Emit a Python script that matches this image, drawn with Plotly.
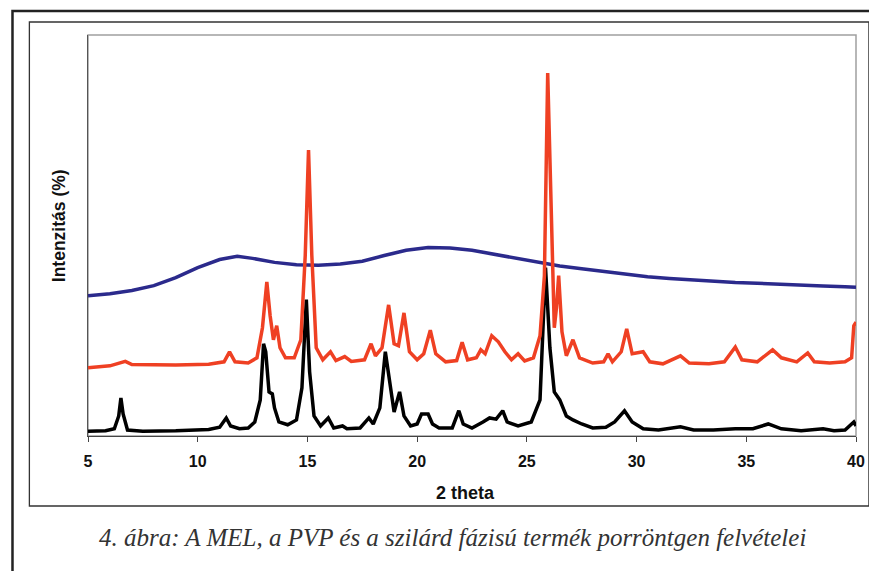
import plotly.graph_objects as go

# 2 theta vertices and intensities (arbitrary %, 0-100 over the plot height)
mel_x = [5.0, 5.8, 6.2, 6.4, 6.5, 6.6, 6.8, 7.5, 9.0, 10.5, 11.0, 11.3, 11.5, 11.9, 12.3,
         12.6, 12.85, 13.0, 13.1, 13.25, 13.4, 13.5, 13.7, 14.1, 14.5, 14.75, 14.95, 15.1,
         15.3, 15.6, 15.95, 16.2, 16.6, 16.8, 17.4, 17.8, 18.0, 18.3, 18.55, 18.75, 18.95,
         19.2, 19.4, 19.7, 20.0, 20.2, 20.5, 20.7, 21.0, 21.6, 21.9, 22.1, 22.5, 23.0, 23.3,
         23.6, 23.9, 24.1, 24.6, 25.2, 25.6, 25.85, 26.05, 26.25, 26.5, 26.8, 27.1, 27.5,
         28.0, 28.6, 29.0, 29.45, 29.8, 30.3, 31.0, 32.0, 32.6, 33.5, 34.5, 35.3, 36.0, 36.6,
         37.5, 38.5, 39.0, 39.5, 39.9, 40.0]
mel_y = [1.2, 1.3, 1.8, 5.0, 9.5, 5.5, 1.5, 1.2, 1.3, 1.6, 2.2, 4.5, 2.5, 1.8, 2.0,
         3.5, 9.0, 23.0, 21.0, 11.0, 10.5, 7.0, 3.5, 2.8, 4.0, 12.0, 34.0, 16.0,
         5.0, 2.5, 4.5, 2.0, 2.5, 1.8, 2.0, 4.5, 3.0, 7.0, 21.0, 13.0, 6.0,
         11.0, 5.0, 2.5, 3.0, 5.5, 5.5, 3.0, 2.0, 2.0, 6.3, 3.0, 2.0, 3.5, 4.5,
         4.2, 6.3, 3.5, 2.5, 3.5, 9.0, 42.0, 22.0, 11.0, 9.0, 5.0, 4.0, 3.0,
         2.0, 2.2, 3.5, 6.3, 3.5, 1.8, 1.5, 2.3, 1.5, 1.5, 1.8, 1.8, 3.0, 1.8,
         1.3, 1.8, 1.3, 1.5, 3.5, 2.5]

prod_x = [5.0, 6.0, 6.7, 7.0, 9.0, 10.5, 11.2, 11.45, 11.7, 12.3, 12.7, 12.95, 13.15, 13.3,
          13.45, 13.6, 13.75, 14.0, 14.4, 14.7, 14.9, 15.05, 15.2, 15.4, 15.7, 16.05, 16.3,
          16.7, 17.0, 17.6, 17.9, 18.1, 18.4, 18.7, 18.95, 19.15, 19.4, 19.65, 20.0, 20.3,
          20.6, 20.85, 21.3, 21.8, 22.05, 22.3, 22.7, 22.9, 23.1, 23.4, 23.7, 24.0, 24.3,
          24.6, 24.9, 25.3, 25.6, 25.8, 25.95, 26.1, 26.25, 26.35, 26.45, 26.6, 26.8, 27.1,
          27.4, 28.0, 28.5, 28.7, 28.9, 29.3, 29.55, 29.8, 30.3, 30.6, 31.2, 32.0, 32.4,
          33.3, 34.0, 34.5, 34.8, 35.5, 36.2, 36.6, 37.3, 37.8, 38.1, 38.8, 39.5, 39.8,
          39.9, 40.0]
prod_y = [17.0, 17.5, 18.6, 17.8, 17.7, 17.9, 18.5, 21.0, 18.5, 18.2, 19.5, 27.0, 38.4, 30.0,
          24.0, 27.5, 22.0, 19.5, 19.5, 24.0, 45.0, 71.3, 45.0, 22.0, 19.0, 21.0, 18.8,
          19.8, 18.6, 19.0, 23.0, 20.0, 22.0, 32.7, 23.0, 22.5, 30.7, 21.0, 19.0, 20.5,
          26.4, 20.5, 18.5, 18.8, 23.4, 19.0, 19.5, 21.5, 20.5, 25.0, 23.5, 21.0, 19.0,
          20.5, 18.7, 19.5, 25.0, 40.0, 90.5, 60.0, 27.0, 32.0, 40.0, 26.0, 20.0, 24.0,
          19.5, 18.2, 18.5, 20.5, 18.5, 21.0, 26.7, 20.5, 21.0, 18.5, 18.0, 20.0, 18.2,
          18.0, 18.5, 22.2, 19.0, 18.5, 21.5, 19.5, 18.5, 20.7, 18.5, 18.2, 18.5, 19.5,
          27.5, 28.4]

pvp_x = [5.0, 6.0, 7.0, 8.0, 9.0, 10.0, 11.0, 11.8, 12.5, 13.5, 14.5, 15.5, 16.5, 17.5,
         18.5, 19.5, 20.5, 21.5, 22.5, 23.5, 24.5, 25.5, 26.5, 27.5, 28.5, 29.5, 30.5,
         31.5, 32.5, 33.5, 34.5, 35.5, 36.5, 37.5, 38.5, 39.5, 40.0]
pvp_y = [35.0, 35.5, 36.3, 37.5, 39.5, 42.0, 44.0, 44.8, 44.3, 43.3, 42.7, 42.6, 42.9, 43.6,
         45.0, 46.3, 47.0, 46.9, 46.3, 45.3, 44.2, 43.3, 42.4, 41.7, 41.0, 40.3, 39.7,
         39.3, 38.9, 38.6, 38.3, 38.1, 37.8, 37.6, 37.4, 37.2, 37.1]

x_ticks = [5, 10, 15, 20, 25, 30, 35, 40]

# the page body adds an 8px margin, so the figure is drawn 8px smaller
OFF = 8
W, H = 877 - OFF, 571 - OFF
PL, PR, PT, PB = 88 - OFF, 861 - OFF, 35 - OFF, 436 - OFF


def px(x):
    return (x - OFF - PL) / (PR - PL)


def py(y):
    return (PB - (y - OFF)) / (PB - PT)


fig = go.Figure()
fig.add_trace(go.Scatter(x=pvp_x, y=pvp_y, mode="lines",
                         line=dict(color="#2B2A8C", width=3.5), name="PVP"))
fig.add_trace(go.Scatter(x=mel_x, y=mel_y, mode="lines",
                         line=dict(color="#000000", width=3.5), name="MEL"))
fig.add_trace(go.Scatter(x=prod_x, y=prod_y, mode="lines",
                         line=dict(color="#EF4023", width=3.5), name="termék"))

# grey plot-area border (top / right)
fig.add_shape(type="rect", xref="paper", yref="paper", x0=0, x1=1, y0=0, y1=1,
              line=dict(color="#A0A0A0", width=1.5), layer="below")
# inner chart box
fig.add_shape(type="rect", xref="paper", yref="paper",
              x0=px(29), x1=px(874), y0=py(506), y1=py(22),
              line=dict(color="#333333", width=1.3))
# outer page frame
fig.add_shape(type="rect", xref="paper", yref="paper",
              x0=px(12), x1=px(900), y0=py(600), y1=py(11),
              line=dict(color="#222222", width=2.5))

fig.add_annotation(xref="paper", yref="paper", x=px(468), y=py(493),
                   text="<b>2 theta</b>", showarrow=False,
                   xanchor="center", yanchor="middle", font=dict(size=18))
fig.add_annotation(xref="paper", yref="paper", x=px(59), y=py(226),
                   text="<b>Intenzitás (%)</b>", showarrow=False, textangle=-90,
                   xanchor="center", yanchor="middle", font=dict(size=17.5))
fig.add_annotation(xref="paper", yref="paper", x=px(455), y=py(537),
                   text="<i>4. ábra: A MEL, a PVP és a szilárd fázisú termék porröntgen felvételei</i>",
                   showarrow=False, xanchor="center", yanchor="middle",
                   font=dict(family="Liberation Serif", size=25, color="#333333"))

fig.update_layout(
    width=W, height=H,
    margin=dict(l=PL, r=W - PR, t=PT, b=H - PB),
    paper_bgcolor="white", plot_bgcolor="white",
    showlegend=False,
    font=dict(family="Liberation Sans", color="#111111"),
)
fig.update_xaxes(range=[5, 40], tickvals=x_ticks, ticktext=[f"<b>{t}</b>" for t in x_ticks],
                 showgrid=False, zeroline=False, showline=True, linecolor="#444444", linewidth=1.2,
                 ticks="outside", ticklen=5, tickcolor="#444444", tickfont=dict(size=16),
                 ticklabelstandoff=6)
fig.update_yaxes(range=[0, 100], showticklabels=False, showgrid=False, zeroline=False,
                 showline=True, linecolor="#555555", linewidth=1.2, ticks="")

fig.write_html("out.html")
